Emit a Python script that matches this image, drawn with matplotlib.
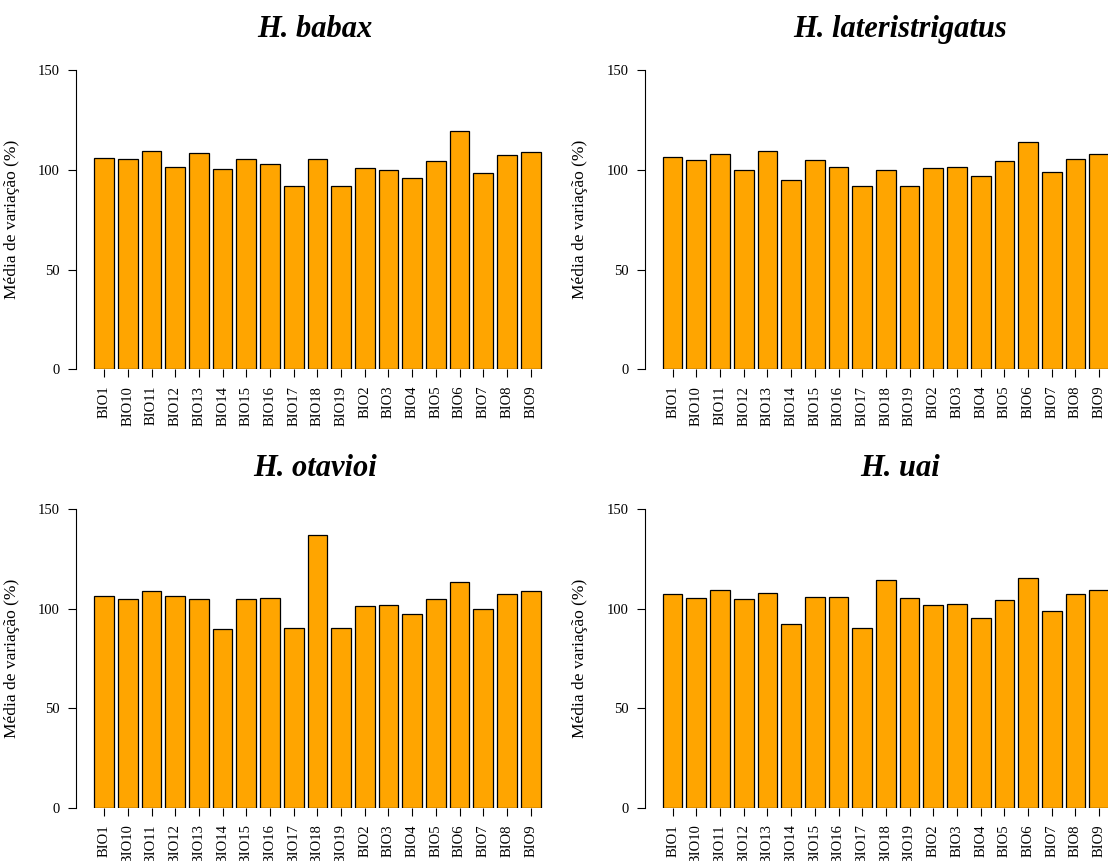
import matplotlib
matplotlib.use("Agg")
import matplotlib.pyplot as plt
import numpy as np

plt.rcParams["font.family"] = ["Liberation Serif", "DejaVu Serif"]

# variable names, in the order they come out of the model
bio_labels = ["BIO1", "BIO10", "BIO11", "BIO12", "BIO13", "BIO14", "BIO15",
              "BIO16", "BIO17", "BIO18", "BIO19", "BIO2", "BIO3", "BIO4",
              "BIO5", "BIO6", "BIO7", "BIO8", "BIO9"]

# mean variation (%) per species
babax = [106.0, 105.3, 109.3, 101.3, 108.5, 100.3, 105.3, 103.0, 92.0, 105.3,
         92.0, 100.7, 99.8, 95.8, 104.5, 119.5, 98.2, 107.5, 109.0]
lateristrigatus = [106.2, 105.0, 107.8, 100.0, 109.2, 95.0, 104.8, 101.5, 91.8,
                   99.8, 91.8, 100.7, 101.2, 96.7, 104.3, 114.0, 98.7, 105.5,
                   107.8]
otavioi = [106.5, 105.0, 109.0, 106.3, 105.0, 89.9, 105.1, 105.5, 90.6, 137.1,
           90.6, 101.6, 102.0, 97.3, 104.8, 113.7, 100.0, 107.4, 109.0]
uai = [107.3, 105.6, 109.3, 104.8, 107.8, 92.4, 106.1, 105.8, 90.4, 114.3,
       105.3, 101.8, 102.6, 95.4, 104.5, 115.5, 98.9, 107.6, 109.3]

species = ["H. babax", "H. lateristrigatus", "H. otavioi", "H. uai"]
series = [babax, lateristrigatus, otavioi, uai]

W, H = 1108, 861
fig = plt.figure(figsize=(W / 100, H / 100), dpi=100)

# panel boxes in pixels: left edge, top (y=150), bottom (y=0), title x
plot_w = 482.0
boxes = [(76.4, 70.0, 369.3, 0.495), (644.9, 70.0, 369.3, 0.530),
         (76.4, 509.3, 808.0, 0.495), (644.9, 509.3, 808.0, 0.530)]


def draw_panel(ax, title, values, title_x):
    x = 0.7 + 1.2 * np.arange(len(values))
    ax.bar(x, values, width=1.0, color="#FFA500", edgecolor="black",
           linewidth=0.9)
    ax.set_xlim(-0.704, 23.704)
    ax.set_ylim(0, 150)
    ax.set_yticks([0, 50, 100, 150])
    ax.set_xticks(x)
    ax.set_xticklabels(bio_labels, rotation=90)
    for side in ("top", "right", "bottom"):
        ax.spines[side].set_visible(False)
    ax.spines["left"].set_linewidth(0.8)
    ax.tick_params(axis="both", direction="out", length=5.8, width=0.8,
                   labelsize=10.5, pad=6)
    ax.set_ylabel("Média de variação (%)", fontsize=12.5)
    ax.yaxis.set_label_coords(-0.118, 0.5)
    ax.set_title(title, fontsize=22, fontweight="bold", fontstyle="italic",
                 pad=24, x=title_x)


for (left, top, bottom, tx), title, values in zip(boxes, species, series):
    ax = fig.add_axes([left / W, (H - bottom) / H, plot_w / W,
                       (bottom - top) / H])
    draw_panel(ax, title, values, tx)

fig.savefig("out.png", dpi=100)
